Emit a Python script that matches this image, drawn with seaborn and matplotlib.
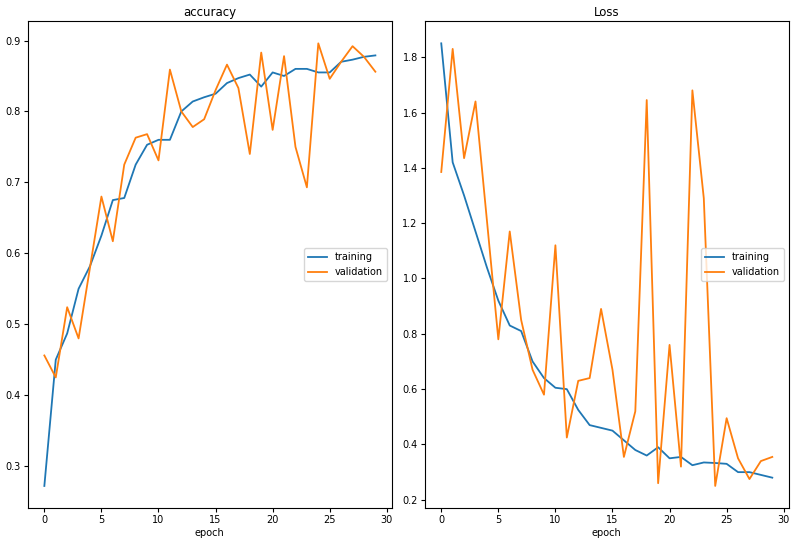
import numpy as np
import seaborn as sns
from matplotlib import pyplot as plt

# values, one per epoch
epochs = list(range(30))

acc_train = [0.272, 0.450, 0.487, 0.550, 0.582, 0.625, 0.675, 0.678, 0.725, 0.753,
             0.760, 0.760, 0.800, 0.814, 0.820, 0.825, 0.840, 0.847, 0.852, 0.835,
             0.855, 0.850, 0.860, 0.860, 0.855, 0.855, 0.870, 0.873, 0.877, 0.879]
acc_val = [0.456, 0.425, 0.524, 0.480, 0.580, 0.680, 0.617, 0.725, 0.763, 0.768,
           0.731, 0.859, 0.800, 0.778, 0.789, 0.830, 0.866, 0.833, 0.740, 0.883,
           0.774, 0.878, 0.750, 0.693, 0.896, 0.846, 0.870, 0.892, 0.877, 0.856]

loss_train = [1.85, 1.42, 1.30, 1.17, 1.04, 0.92, 0.83, 0.81, 0.70, 0.64,
              0.605, 0.60, 0.525, 0.47, 0.46, 0.45, 0.415, 0.38, 0.36, 0.39,
              0.35, 0.355, 0.325, 0.335, 0.333, 0.33, 0.30, 0.30, 0.29, 0.28]
loss_val = [1.385, 1.83, 1.435, 1.64, 1.21, 0.78, 1.17, 0.85, 0.67, 0.58,
            1.12, 0.425, 0.63, 0.64, 0.89, 0.67, 0.355, 0.52, 1.645, 0.26,
            0.76, 0.32, 1.68, 1.29, 0.25, 0.495, 0.35, 0.275, 0.34, 0.355]

fig, (ax1, ax2) = plt.subplots(1, 2, figsize=(7.94, 5.44), dpi=100)
fig.subplots_adjust(left=0.035, right=0.9935, bottom=0.066, top=0.961, wspace=0.09)

panels = [(ax1, acc_train, acc_val, 'accuracy'),
          (ax2, loss_train, loss_val, 'Loss')]

for ax, train, val, title in panels:
    sns.lineplot(x=epochs, y=train, ax=ax, color='#1f77b4', linewidth=1.3, label='training')
    sns.lineplot(x=epochs, y=val, ax=ax, color='#ff7f0e', linewidth=1.3, label='validation')
    ax.set_title(title, fontsize=8.5, pad=4)
    ax.set_xlabel('epoch', fontsize=7, labelpad=2)
    ax.tick_params(labelsize=7, length=3, pad=2)
    ax.set_xticks([0, 5, 10, 15, 20, 25, 30])
    ax.legend(loc='center right', fontsize=7)

fig.savefig('out.png', dpi=100)
